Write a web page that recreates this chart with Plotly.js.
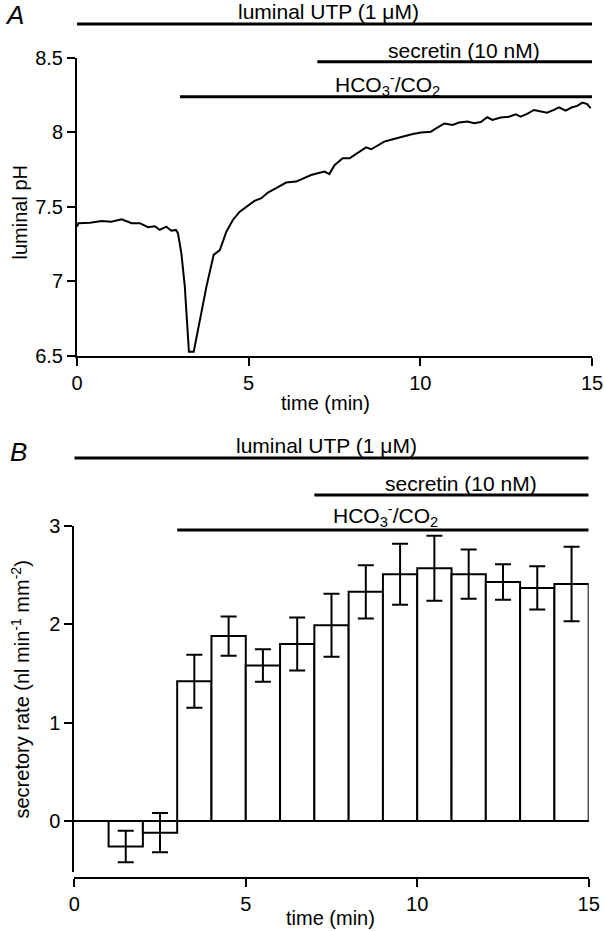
<!DOCTYPE html>
<html>
<head>
<meta charset="utf-8">
<script src="https://cdn.plot.ly/plotly-3.0.1.min.js"></script>
<style>
  html, body { margin: 0; padding: 0; background: #fff; }
  #chart { width: 604px; height: 931px; }
</style>
</head>
<body>
<div id="chart"></div>
<script>
// Panel A: luminal pH trace (time in min)
const phTime = [0, 0.04, 0.38, 0.72, 1.0, 1.3, 1.59, 1.83, 2.07, 2.27, 2.41, 2.6, 2.75, 2.88, 2.94,
  3.04, 3.14, 3.26, 3.4, 3.58, 3.77, 3.98, 4.16, 4.35, 4.54, 4.74, 4.93, 5.17, 5.37, 5.56,
  5.8, 6.09, 6.38, 6.58, 6.82, 7.01, 7.21, 7.35, 7.5, 7.74, 7.94, 8.23, 8.42, 8.57, 8.81,
  8.95, 9.2, 9.49, 9.78, 10.02, 10.31, 10.46, 10.7, 10.94, 11.13, 11.37, 11.57, 11.76, 11.95,
  12.1, 12.34, 12.58, 12.78, 12.92, 13.11, 13.31, 13.5, 13.69, 13.89, 14.04, 14.23, 14.42,
  14.57, 14.72, 14.86, 14.96];
const phValue = [7.367, 7.39, 7.394, 7.405, 7.40, 7.417, 7.39, 7.39, 7.363, 7.37, 7.345, 7.367, 7.34, 7.345, 7.323,
  7.188, 6.964, 6.527, 6.527, 6.74, 6.964, 7.177, 7.21, 7.333, 7.412, 7.468, 7.50, 7.54, 7.558, 7.596,
  7.625, 7.663, 7.67, 7.692, 7.714, 7.726, 7.737, 7.72, 7.78, 7.826, 7.826, 7.871, 7.90, 7.887, 7.916,
  7.938, 7.954, 7.972, 7.99, 7.999, 8.005, 8.028, 8.06, 8.05, 8.066, 8.073, 8.062, 8.07, 8.102,
  8.084, 8.10, 8.106, 8.122, 8.106, 8.124, 8.151, 8.14, 8.133, 8.151, 8.169, 8.146, 8.169,
  8.178, 8.2, 8.19, 8.163];

// Panel B: secretory rate per 1-min bin (mean +/- s.e.m.)
const binCenter = [1.5, 2.5, 3.5, 4.5, 5.5, 6.5, 7.5, 8.5, 9.5, 10.5, 11.5, 12.5, 13.5, 14.5];
const rateMean = [-0.26, -0.12, 1.42, 1.88, 1.58, 1.80, 1.99, 2.33, 2.51, 2.57, 2.51, 2.43, 2.37, 2.41];
const rateSem = [0.16, 0.2, 0.27, 0.2, 0.165, 0.27, 0.32, 0.27, 0.31, 0.33, 0.25, 0.18, 0.22, 0.38];

// treatment periods (min)
const utpStart = 0, hco3Start = 3, secretinStart = 7, expEnd = 15;

const W = 604, H = 931;
const px = v => v / W;
const py = v => 1 - v / H;
const FONT = 'Liberation Sans, Arial, Helvetica, sans-serif';

const traceA = {
  x: phTime, y: phValue,
  type: 'scatter', mode: 'lines',
  line: { color: 'black', width: 2 },
  xaxis: 'x', yaxis: 'y',
  hoverinfo: 'skip'
};

const traceB = {
  x: binCenter, y: rateMean,
  type: 'bar', width: 1,
  marker: { color: 'white', line: { color: 'black', width: 2 } },
  error_y: { type: 'data', array: rateSem, visible: true, color: 'black', thickness: 2, width: 8 },
  xaxis: 'x2', yaxis: 'y2',
  hoverinfo: 'skip'
};

const axisCommon = {
  showgrid: false, zeroline: false,
  showline: true, linecolor: 'black', linewidth: 2,
  ticks: 'outside', ticklen: 8, tickwidth: 2, tickcolor: 'black',
  tickfont: { size: 20, color: 'black', family: FONT },
  fixedrange: true
};

function bar(xref, x0, yPix) {
  return { type: 'line', xref: xref, yref: 'paper', x0: x0, x1: expEnd,
    y0: py(yPix), y1: py(yPix), line: { color: 'black', width: 3 } };
}
function label(text, xPix, yPix, extra) {
  return Object.assign({ text: text, xref: 'paper', yref: 'paper', x: px(xPix), y: py(yPix),
    xanchor: 'center', yanchor: 'middle', showarrow: false,
    font: { size: 21, color: 'black', family: FONT } }, extra || {});
}

const layout = {
  width: W, height: H,
  margin: { l: 0, r: 0, t: 0, b: 0 },
  paper_bgcolor: 'white', plot_bgcolor: 'white',
  showlegend: false,
  font: { family: FONT, size: 20, color: 'black' },
  xaxis: Object.assign({}, axisCommon, {
    domain: [px(77), px(592)], range: [0, 15], tickvals: [0, 5, 10, 15], anchor: 'y'
  }),
  yaxis: Object.assign({}, axisCommon, {
    domain: [py(355.7), py(58)], range: [6.5, 8.5], tickvals: [6.5, 7, 7.5, 8, 8.5], anchor: 'x'
  }),
  xaxis2: Object.assign({}, axisCommon, {
    domain: [px(74.3), px(588.7)], range: [0, 15], tickvals: [0, 5, 10, 15],
    anchor: 'free', position: py(878)
  }),
  yaxis2: Object.assign({}, axisCommon, {
    domain: [py(872), py(526)], range: [-0.52, 3], tickvals: [0, 1, 2, 3], anchor: 'x2',
    zeroline: true, zerolinecolor: 'black', zerolinewidth: 2
  }),
  shapes: [
    bar('x', utpStart, 24), bar('x', secretinStart, 61.7), bar('x', hco3Start, 96.7),
    bar('x2', utpStart, 458), bar('x2', secretinStart, 495), bar('x2', hco3Start, 530)
  ],
  annotations: [
    label('<i>A</i>', 15, 15, { font: { size: 26, color: 'black', family: FONT } }),
    label('<i>B</i>', 18, 452, { font: { size: 26, color: 'black', family: FONT } }),
    label('luminal UTP (1 \u03bcM)', 329, 12),
    label('secretin (10 nM)', 464, 50),
    label('HCO<sub>3</sub><sup>-</sup>/CO<sub>2</sub>', 388, 84),
    label('luminal UTP (1 \u03bcM)', 326, 445),
    label('secretin (10 nM)', 461, 483),
    label('HCO<sub>3</sub><sup>-</sup>/CO<sub>2</sub>', 385, 515),
    label('luminal pH', 19.5, 213, { textangle: -90, font: { size: 20, color: 'black', family: FONT } }),
    label('time (min)', 325, 403, { font: { size: 20, color: 'black', family: FONT } }),
    label('secretory rate (nl min<sup>-1</sup> mm<sup>-2</sup>)', 19.5, 690, { textangle: -90, font: { size: 20, color: 'black', family: FONT } }),
    label('time (min)', 330, 918, { font: { size: 20, color: 'black', family: FONT } })
  ]
};

Plotly.newPlot('chart', [traceA, traceB], layout, { staticPlot: true, displayModeBar: false });
</script>
</body>
</html>
